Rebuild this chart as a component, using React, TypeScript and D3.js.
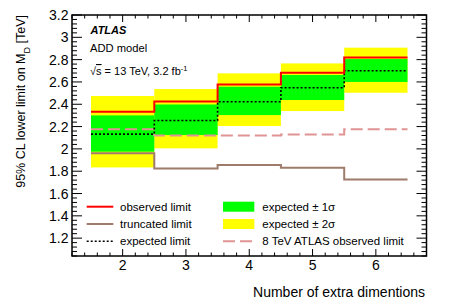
import { useMemo } from 'react';
import * as d3 from 'd3';

// number of extra dimensions (bin centres)
const dims = [2, 3, 4, 5, 6];
const observed = [2.333, 2.425, 2.578, 2.683, 2.82];
const expected = [2.132, 2.254, 2.422, 2.548, 2.7];
const sigma1Lo = [1.975, 2.124, 2.303, 2.438, 2.6];
const sigma1Hi = [2.3, 2.398, 2.557, 2.662, 2.805];
const sigma2Lo = [1.834, 2.005, 2.205, 2.339, 2.503];
const sigma2Hi = [2.474, 2.536, 2.677, 2.766, 2.907];
const truncated = [1.96, 1.825, 1.855, 1.83, 1.726];
const atlas8TeV = [2.175, 2.12, 2.12, 2.13, 2.175];

const xTicks = [2, 3, 4, 5, 6];
const yTicks = [1.2, 1.4, 1.6, 1.8, 2, 2.2, 2.4, 2.6, 2.8, 3, 3.2];

const W = 449;
const H = 305;
const FONT = 'Liberation Sans, Arial, Helvetica, sans-serif';

export default function App() {
  const x = useMemo(() => d3.scaleLinear().domain([1.2, 6.8]).range([72, 426.5]), []);
  const y = useMemo(() => d3.scaleLinear().domain([1.04, 3.2]).range([256, 15]), []);

  // step outline across the bins
  const step = (vals: number[]) =>
    d3.line<[number, number]>()
      .x((d) => x(d[0]))
      .y((d) => y(d[1]))(
      vals.flatMap((v, i) => [
        [dims[i] - 0.5, v],
        [dims[i] + 0.5, v]
      ] as [number, number][])
    ) as string;

  const band = (lo: number[], hi: number[], fill: string) =>
    dims.map((d, i) => (
      <rect
        key={fill + d}
        x={x(d - 0.5)}
        width={x(d + 0.5) - x(d - 0.5)}
        y={y(hi[i])}
        height={y(lo[i]) - y(hi[i])}
        fill={fill}
      />
    ));

  const xMinor = d3.range(0, 29).map((i) => +(1.2 + i * 0.2).toFixed(2));
  const yMinor = d3.range(0, 55).map((i) => +(1.04 + i * 0.04).toFixed(2)).filter((v) => v <= 3.2);

  const [x0, x1] = x.range();
  const [y0, y1] = y.range();

  const legL = [
    { label: 'observed limit', stroke: '#ff0000', dash: undefined, width: 2 },
    { label: 'truncated limit', stroke: '#9e7b6b', dash: undefined, width: 2 },
    { label: 'expected limit', stroke: '#000', dash: '2,2', width: 1.5 }
  ];
  const legRows = [206.7, 224, 241.3];

  return (
    <svg
      width={W}
      height={H}
      style={{ position: 'fixed', left: 0, top: 0, background: '#fff' }}
      fontFamily={FONT}
    >
      <rect width={W} height={H} fill="#fff" />

      {band(sigma2Lo, sigma2Hi, '#ffff00')}
      {band(sigma1Lo, sigma1Hi, '#00ff00')}

      <path d={step(atlas8TeV)} fill="none" stroke="#e09494" strokeWidth={2} strokeDasharray="12,5" />
      <path d={step(truncated)} fill="none" stroke="#9e7b6b" strokeWidth={2} />
      <path d={step(expected)} fill="none" stroke="#000" strokeWidth={1.6} strokeDasharray="2,2" />
      <path d={step(observed)} fill="none" stroke="#ff0000" strokeWidth={2} />

      {/* frame and ticks */}
      <g stroke="#000" strokeWidth={1}>
        {xMinor.map((v) => {
          const major = xTicks.includes(v);
          const l = major ? 7 : 3.5;
          return (
            <g key={'xt' + v}>
              <line x1={x(v)} x2={x(v)} y1={y0} y2={y0 - l} />
              <line x1={x(v)} x2={x(v)} y1={y1} y2={y1 + l} />
            </g>
          );
        })}
        {yMinor.map((v) => {
          const major = yTicks.some((t) => Math.abs(t - v) < 1e-6);
          const l = major ? 10 : 5;
          return (
            <g key={'yt' + v}>
              <line x1={x0} x2={x0 + l} y1={y(v)} y2={y(v)} />
              <line x1={x1} x2={x1 - l} y1={y(v)} y2={y(v)} />
            </g>
          );
        })}
      </g>
      <rect x={x0} y={y1} width={x1 - x0} height={y0 - y1} fill="none" stroke="#000" strokeWidth={1.5} />

      {/* tick labels */}
      <g fontSize={14} fill="#000">
        {yTicks.map((v) => (
          <text key={'yl' + v} x={68.5} y={y(v) + 5} textAnchor="end">
            {String(+v.toFixed(1))}
          </text>
        ))}
        {xTicks.map((v) => (
          <text key={'xl' + v} x={x(v)} y={270} textAnchor="middle">
            {v}
          </text>
        ))}
      </g>

      {/* axis titles */}
      <text x={425} y={296.5} textAnchor="end" fontSize={14}>
        Number of extra dimentions
      </text>
      <text transform="translate(25,15) rotate(-90)" textAnchor="end" fontSize={12.5}>
        95% CL lower limit on M<tspan baselineShift="sub" fontSize={9}>D</tspan> [TeV]
      </text>

      {/* labels */}
      <text x={90.5} y={34.3} fontSize={11} fontWeight="bold" fontStyle="italic">
        ATLAS
      </text>
      <text x={90} y={51.7} fontSize={11.2}>
        ADD model
      </text>
      <text x={90} y={75} fontSize={11}>
        √<tspan textDecoration="overline" style={{ textDecoration: 'overline' }}>s</tspan> = 13 TeV, 3.2 fb
        <tspan baselineShift="super" fontSize={7.5}>-1</tspan>
      </text>

      {/* legend */}
      <g fontSize={11.5}>
        {legL.map((l, i) => (
          <g key={l.label}>
            <line
              x1={86.7}
              x2={113.3}
              y1={legRows[i]}
              y2={legRows[i]}
              stroke={l.stroke}
              strokeWidth={l.width}
              strokeDasharray={l.dash}
            />
            <text x={120} y={legRows[i] + 4}>
              {l.label}
            </text>
          </g>
        ))}
        <rect x={223} y={legRows[0] - 5} width={31.3} height={10} fill="#00ff00" />
        <text x={262.3} y={legRows[0] + 4}>expected ± 1σ</text>
        <rect x={223} y={legRows[1] - 5} width={31.3} height={10} fill="#ffff00" />
        <text x={262.3} y={legRows[1] + 4}>expected ± 2σ</text>
        <line
          x1={223}
          x2={254.3}
          y1={legRows[2]}
          y2={legRows[2]}
          stroke="#e09494"
          strokeWidth={2}
          strokeDasharray="12,5"
        />
        <text x={262.3} y={legRows[2] + 4}>8 TeV ATLAS observed limit</text>
      </g>
    </svg>
  );
}
